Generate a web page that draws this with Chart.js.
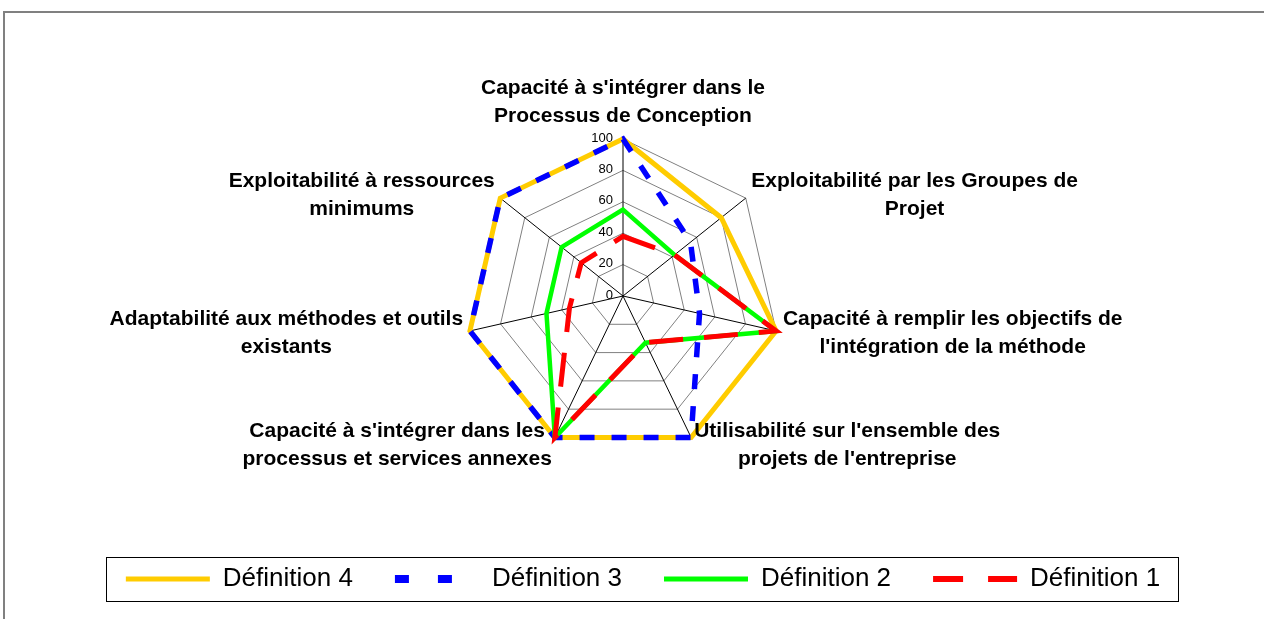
<!DOCTYPE html>
<html>
<head>
<meta charset="utf-8">
<script src="https://cdn.jsdelivr.net/npm/chart.js@4"></script>
<style>
  html, body { margin: 0; padding: 0; background: #fff; }
  #wrap { position: relative; width: 1264px; height: 619px; }
</style>
</head>
<body>
<div id="wrap"><canvas id="radarChart" width="1264" height="619"></canvas></div>
<script>
const axes = [
  ["Capacité à s'intégrer dans le", "Processus de Conception"],
  ["Exploitabilité par les Groupes de", "Projet"],
  ["Capacité à remplir les objectifs de", "l'intégration de la méthode"],
  ["Utilisabilité sur l'ensemble des", "projets de l'entreprise"],
  ["Capacité à s'intégrer dans les", "processus et services annexes"],
  ["Adaptabilité aux méthodes et outils", "existants"],
  ["Exploitabilité à ressources", "minimums"]
];
const def1 = [38, 42, 100, 33, 100, 35, 34];
const def2 = [55, 42, 100, 33, 100, 50, 50];
const def3 = [100, 55, 50, 100, 100, 100, 100];
const def4 = [100, 80, 100, 100, 100, 100, 100];
const tickStep = 20;

const FONT = "'Liberation Sans', Arial, sans-serif";

// legend samples are drawn a bit differently from the lines in the plot
const legendStyle = {
  'Définition 4': { width: 5, dash: [] },
  'Définition 3': { width: 8, dash: [14, 29] },
  'Définition 2': { width: 5, dash: [] },
  'Définition 1': { width: 6, dash: [30, 25] }
};

const decorations = {
  id: 'decorations',
  afterDraw(chart) {
    const ctx = chart.ctx;
    const scale = chart.scales.r;
    ctx.save();

    // outer frame (only top and left are inside the picture)
    ctx.strokeStyle = '#808080';
    ctx.lineWidth = 2;
    ctx.strokeRect(4, 12, 1300, 700);

    // tick labels, right aligned left of the vertical axis
    ctx.fillStyle = '#000';
    ctx.font = '13px ' + FONT;
    ctx.textAlign = 'right';
    ctx.textBaseline = 'middle';
    scale.ticks.forEach(t => {
      const d = scale.getDistanceFromCenterForValue(t.value);
      ctx.fillText(String(t.value), scale.xCenter - 10, scale.yCenter - d - 1);
    });

    // point labels, lines centred inside each block
    ctx.font = 'bold 21px ' + FONT;
    const lh = 28;
    chart.data.labels.forEach((lines, i) => {
      const p = scale.getPointPosition(i, scale.drawingArea + 7);
      const w = Math.max(...lines.map(l => ctx.measureText(l).width));
      let cx, firstY;
      if (Math.abs(p.x - scale.xCenter) < 5) {
        cx = p.x;
        firstY = p.y - 16 - (lines.length - 1) * lh;
      } else {
        cx = p.x > scale.xCenter ? p.x + w / 2 : p.x - w / 2;
        firstY = p.y + 1 - (lines.length - 1) * lh / 2;
      }
      ctx.textAlign = 'center';
      lines.forEach((l, k) => ctx.fillText(l, cx, firstY + k * lh));
    });

    // legend border
    const hb = chart.legend.legendHitBoxes;
    if (hb && hb.length) {
      const first = hb[0], last = hb[hb.length - 1];
      ctx.strokeStyle = '#000';
      ctx.lineWidth = 1;
      ctx.strokeRect(Math.round(first.left - 20) + 0.5, Math.round(first.top - 9) + 0.5,
        Math.round(last.left + last.width + 18 - (first.left - 20)), 44);
    }
    ctx.restore();
  }
};

new Chart(document.getElementById('radarChart'), {
  type: 'radar',
  data: {
    labels: axes,
    datasets: [
      { label: 'Définition 1', data: def1, borderColor: '#ff0000', backgroundColor: '#ff0000',
        borderWidth: 5, borderDash: [34, 21], fill: false, pointRadius: 0 },
      { label: 'Définition 2', data: def2, borderColor: '#00ff00', backgroundColor: '#00ff00',
        borderWidth: 4.5, fill: false, pointRadius: 0 },
      { label: 'Définition 3', data: def3, borderColor: '#0000ff', backgroundColor: '#0000ff',
        borderWidth: 5.5, borderDash: [15, 17], fill: false, pointRadius: 0 },
      { label: 'Définition 4', data: def4, borderColor: '#ffcc00', backgroundColor: '#ffcc00',
        borderWidth: 5, fill: false, pointRadius: 0 }
    ]
  },
  options: {
    responsive: false,
    animation: false,
    maintainAspectRatio: false,
    layout: { padding: { left: 22, right: 0, top: 0, bottom: 17 } },
    elements: { line: { tension: 0, borderJoinStyle: 'miter' } },
    scales: {
      r: {
        min: 0,
        max: 100,
        beginAtZero: true,
        ticks: { stepSize: tickStep, display: false },
        grid: { color: '#808080', lineWidth: 1, circular: false },
        angleLines: { color: '#000', lineWidth: 1 },
        pointLabels: { display: false },
        afterFit(s) {
          s.xCenter = 623;
          s.yCenter = 296;
          s.drawingArea = 157;
        }
      }
    },
    plugins: {
      tooltip: { enabled: false },
      legend: {
        position: 'bottom',
        reverse: true,
        labels: {
          usePointStyle: true,
          pointStyle: 'line',
          pointStyleWidth: 84,
          padding: 42,
          color: '#000',
          font: { family: FONT, size: 26 },
          generateLabels(chart) {
            const items = Chart.defaults.plugins.legend.labels.generateLabels(chart);
            items.forEach(it => {
              const st = legendStyle[it.text];
              it.lineWidth = st.width;
              it.lineDash = st.dash;
            });
            return items;
          }
        }
      }
    }
  },
  plugins: [decorations]
});
</script>
</body>
</html>
